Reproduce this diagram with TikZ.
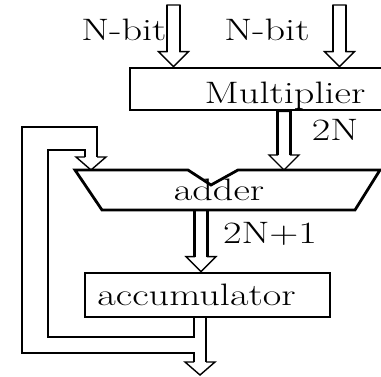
\documentclass[tikz,border=0pt]{standalone}
\usepackage{graphicx}
\usetikzlibrary{calc}

\newcommand{\wide}[1]{\scalebox{1.3}[1]{#1}}
% block arrow of a bus, from #1 down to its tip #2
\newcommand{\busarrow}[2]{%
  \draw[head] ($(#1)+(-6.5,0)$) -- ($(#2)+(-6.5,-15)$) -- ($(#2)+(-15,-15)$)
    -- (#2) -- ($(#2)+(15,-15)$) -- ($(#2)+(6.5,-15)$) -- ($(#1)+(6.5,0)$) -- cycle;
  \draw[shaft] ($(#1)+(-6.5,0)$) -- ($(#2)+(-6.5,-15)$)
    ($(#1)+(6.5,0)$) -- ($(#2)+(6.5,-15)$);
}

\begin{document}
\begin{tikzpicture}[
    x=1pt, y=-1pt,
    box/.style={draw, line width=2.8pt, inner sep=0pt, line join=miter},
    txt/.style={font=\fontsize{31}{36}\selectfont, anchor=base, inner sep=0pt},
    shaft/.style={line width=2.8pt},
    head/.style={line width=1.4pt, line join=miter}
  ]
    \useasboundingbox (0,0) rectangle (381,376);

    % Texte
    \node[txt] (nbita) at (124,40) {\wide{N-bit}};
    \node[txt] (nbitb) at (267,40) {\wide{N-bit}};
    \node[txt] (multtxt) at (285,103) {\wide{Multiplier}};
    \node[txt] (twon) at (335,140) {\wide{2N}};
    \node[txt] (addtxt) at (219,200) {\wide{adder}};
    \node[txt] (sumtxt) at (270,243) {\wide{2N+1}};
    \node[txt] (acctxt) at (196.5,305) {\wide{accumulator}};

    % Blocks
    \node[box, minimum width=310pt, minimum height=42pt] (mult) at (285,89) {};
    \node[box, minimum width=245pt, minimum height=44pt] (acc) at (207.5,295) {};
    \draw[box] (75,170) -- (188,170) -- (211,185) -- (238,170) -- (380,170)
      -- (355,210) -- (102,210) -- cycle;
    \coordinate (addtop) at (0,170);
    \coordinate (addbot) at (0,210);

    % Busse
    \coordinate (ina) at (173.5,5);
    \coordinate (inb) at (339.5,5);
    \coordinate (prodx) at (284,0);
    \coordinate (sumx) at (201,0);
    \busarrow{ina}{ina |- mult.north}
    \busarrow{inb}{inb |- mult.north}
    \busarrow{prodx |- mult.south}{prodx |- addtop}
    \busarrow{sumx |- addbot}{sumx |- acc.north}

    % Rueckkopplung
    \coordinate (outx) at (200,0);
    \coordinate (outtip) at (200,375);
    \draw[shaft] (194,0 |- acc.south) -- (194,337) -- (48,337) -- (48,150)
      -- (85,150) -- (85,157);
    \draw[shaft] (97,157) -- (97,127) -- (22,127) -- (22,353) -- (194,353)
      -- (194,362);
    \draw[shaft] (outx |- acc.south) ++(6,0) -- (206,362);
    \draw[head] (194,362) -- (185,362) -- (outtip) -- (215,362) -- (206,362);
    \draw[head] (85,157) -- (76,157) -- (91,170) -- (106,157) -- (97,157);

\end{tikzpicture}
\end{document}
